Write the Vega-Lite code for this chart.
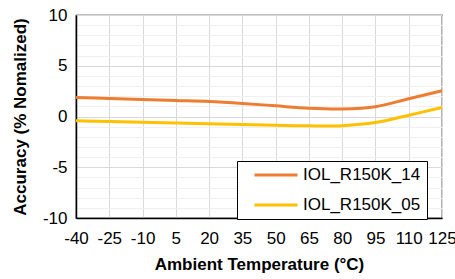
{
  "$schema": "https://vega.github.io/schema/vega-lite/v6.json",
  "width": 366,
  "height": 203,
  "autosize": {"type": "none"},
  "padding": {"left": 76, "top": 15, "right": 13, "bottom": 61},
  "config": {
    "font": "Liberation Sans",
    "view": {"stroke": "#000000", "strokeWidth": 1.2},
    "background": "#ffffff"
  },
  "data": {
    "values": [
      {"t": -40, "v": 1.88, "s": "IOL_R150K_14"},
      {"t": -25, "v": 1.78, "s": "IOL_R150K_14"},
      {"t": -10, "v": 1.68, "s": "IOL_R150K_14"},
      {"t": 5, "v": 1.58, "s": "IOL_R150K_14"},
      {"t": 20, "v": 1.48, "s": "IOL_R150K_14"},
      {"t": 35, "v": 1.29, "s": "IOL_R150K_14"},
      {"t": 50, "v": 1.05, "s": "IOL_R150K_14"},
      {"t": 65, "v": 0.82, "s": "IOL_R150K_14"},
      {"t": 80, "v": 0.75, "s": "IOL_R150K_14"},
      {"t": 95, "v": 0.97, "s": "IOL_R150K_14"},
      {"t": 110, "v": 1.75, "s": "IOL_R150K_14"},
      {"t": 125, "v": 2.53, "s": "IOL_R150K_14"},
      {"t": -40, "v": -0.43, "s": "IOL_R150K_05"},
      {"t": -25, "v": -0.49, "s": "IOL_R150K_05"},
      {"t": -10, "v": -0.56, "s": "IOL_R150K_05"},
      {"t": 5, "v": -0.63, "s": "IOL_R150K_05"},
      {"t": 20, "v": -0.72, "s": "IOL_R150K_05"},
      {"t": 35, "v": -0.78, "s": "IOL_R150K_05"},
      {"t": 50, "v": -0.85, "s": "IOL_R150K_05"},
      {"t": 65, "v": -0.92, "s": "IOL_R150K_05"},
      {"t": 80, "v": -0.9, "s": "IOL_R150K_05"},
      {"t": 95, "v": -0.6, "s": "IOL_R150K_05"},
      {"t": 110, "v": 0.12, "s": "IOL_R150K_05"},
      {"t": 125, "v": 0.89, "s": "IOL_R150K_05"}
    ]
  },
  "mark": {"type": "line", "interpolate": "catmull-rom", "strokeWidth": 3, "clip": false},
  "encoding": {
    "x": {
      "field": "t",
      "type": "quantitative",
      "scale": {"domain": [-40, 125], "nice": false, "zero": false},
      "axis": {
        "values": [-40, -25, -10, 5, 20, 35, 50, 65, 80, 95, 110, 125],
        "labelExpr": "'' + datum.value",
        "grid": true,
        "gridColor": "#d9d9d9",
        "gridWidth": 1,
        "domainColor": "#000000",
        "domainWidth": 1.5,
        "ticks": false,
        "labelFontSize": 17,
        "labelColor": "#000000",
        "labelPadding": 12,
        "labelFlush": false,
        "labelOverlap": false,
        "title": "Ambient Temperature (°C)",
        "titleFontSize": 17,
        "titleFontWeight": "bold",
        "titleColor": "#000000",
        "titlePadding": 10
      }
    },
    "y": {
      "field": "v",
      "type": "quantitative",
      "scale": {"domain": [-10, 10], "nice": false},
      "axis": {
        "values": [-10, -9, -8, -7, -6, -5, -4, -3, -2, -1, 0, 1, 2, 3, 4, 5, 6, 7, 8, 9, 10],
        "labelExpr": "datum.value % 5 === 0 ? '' + datum.value : ''",
        "grid": true,
        "gridColor": {"condition": {"test": "datum.value % 5 === 0", "value": "#d9d9d9"}, "value": "#f0f0f0"},
        "gridWidth": 1,
        "domainColor": "#000000",
        "domainWidth": 1.5,
        "ticks": false,
        "labelFontSize": 17,
        "labelColor": "#000000",
        "labelPadding": 9,
        "labelOverlap": false,
        "title": "Accuracy (% Nomalized)",
        "titleFontSize": 17,
        "titleFontWeight": "bold",
        "titleColor": "#000000",
        "titlePadding": 13
      }
    },
    "color": {
      "field": "s",
      "type": "nominal",
      "scale": {"domain": ["IOL_R150K_14", "IOL_R150K_05"], "range": ["#ED7D31", "#FFC000"]},
      "legend": {
        "title": null,
        "orient": "none",
        "legendX": 161,
        "legendY": 146,
        "direction": "vertical",
        "strokeColor": "#000000",
        "fillColor": "#ffffff",
        "padding": 6,
        "symbolOffset": 10,
        "symbolType": "stroke",
        "symbolStrokeWidth": 3,
        "symbolSize": 1849,
        "clipHeight": 16,
        "labelFontSize": 17,
        "labelColor": "#000000",
        "labelOffset": 4,
        "rowPadding": 13
      }
    }
  }
}
